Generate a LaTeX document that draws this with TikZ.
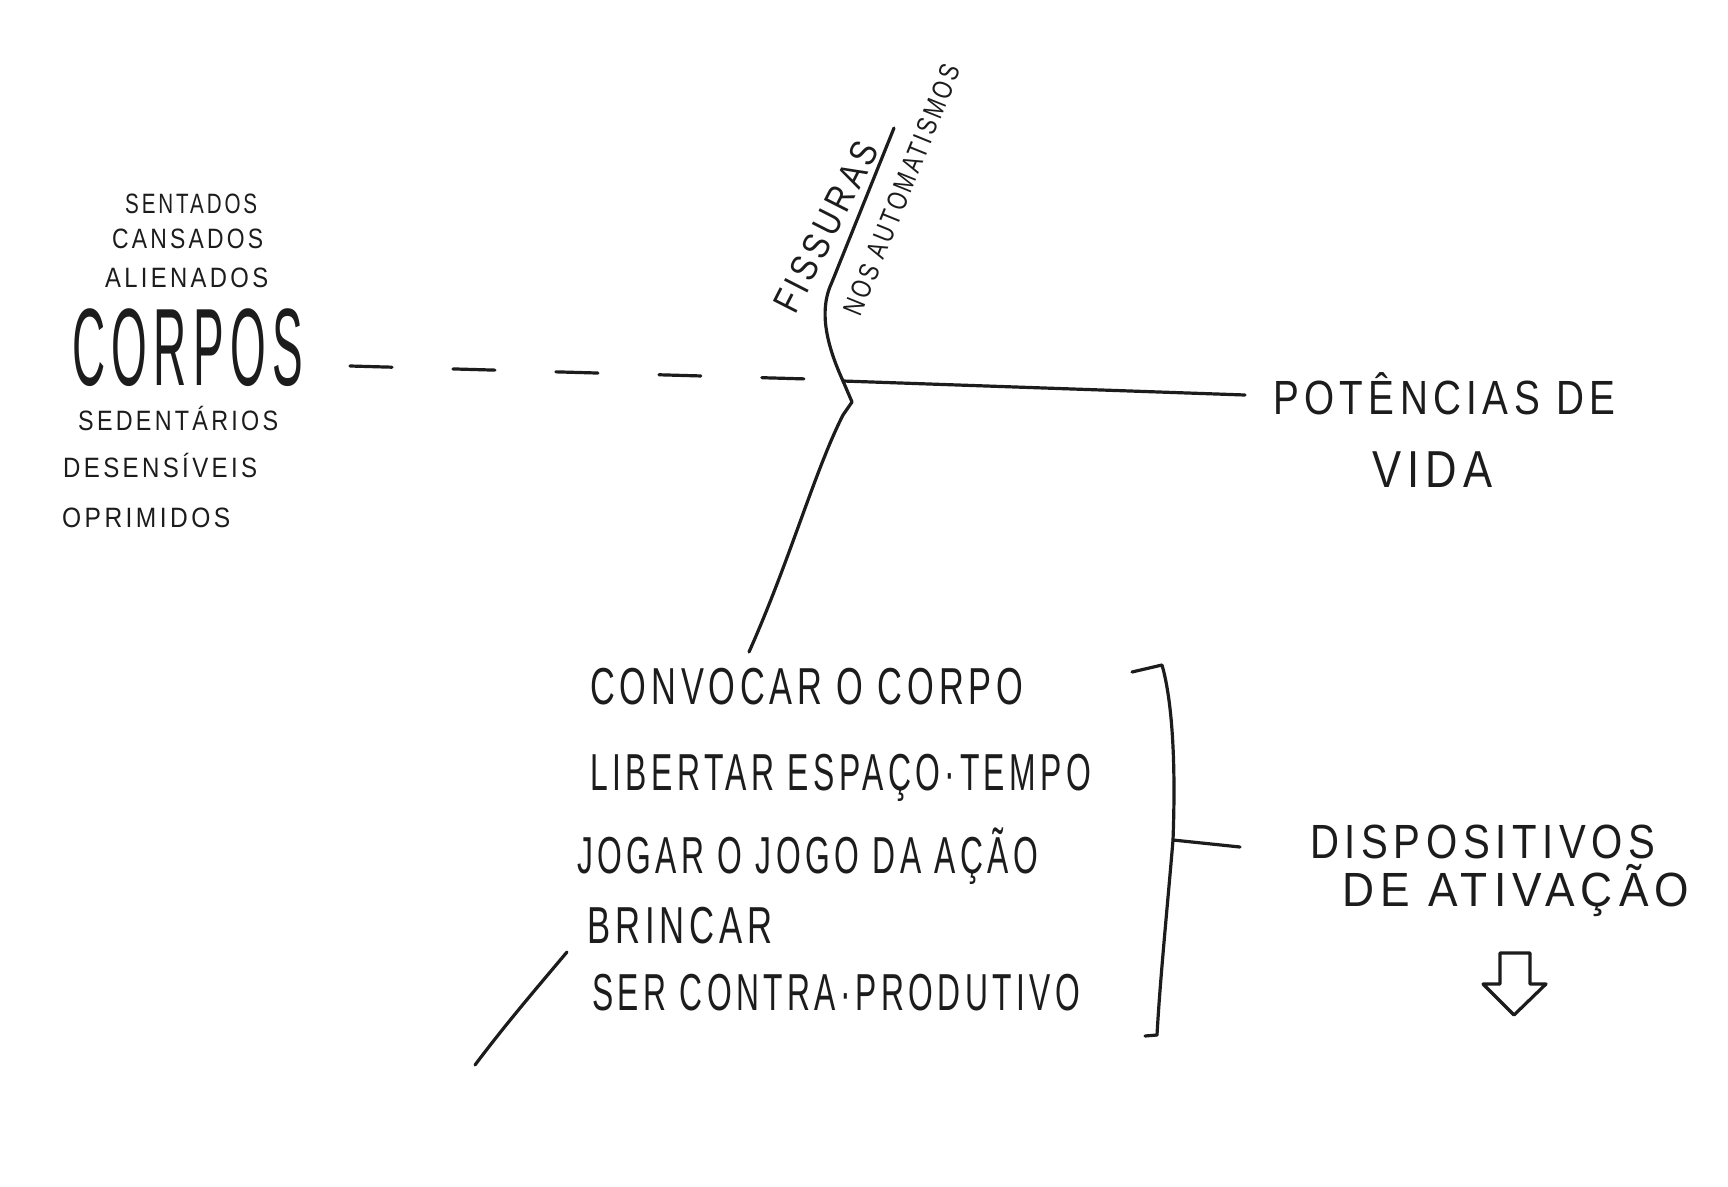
\documentclass[tikz,border=0pt]{standalone}
\usepackage{fontspec}
\setmainfont[LetterSpace=14]{Liberation Sans}
\definecolor{ink}{HTML}{1C1C1C}
\newcommand{\hwt}[3]{\resizebox{#1pt}{\height}{\fontsize{#2}{#2}\selectfont #3}}
\begin{document}
\begin{tikzpicture}[x=1pt,y=-1pt,
  pen/.style={line width=3.2pt,line cap=round,line join=round,draw=ink},
  lbl/.style={inner sep=0pt,text=ink}]
\fill[white] (0,0) rectangle (1728,1186);
\useasboundingbox (0,0) rectangle (1728,1186);

% left words
\node[lbl,anchor=base west] (sentados) at (125,213) {\hwt{132}{28}{SENTADOS}};
\node[lbl,anchor=base west] (cansados) at (112,248) {\hwt{151}{28}{CANSADOS}};
\node[lbl,anchor=base west] (alienados) at (105,287) {\hwt{163}{28}{ALIENADOS}};
\node[lbl,anchor=base west] (corpos) at (72,385) {\hwt{231}{110}{CORPOS}};
\node[lbl,anchor=base west] (sedentarios) at (78,430) {\hwt{200}{28}{SEDENTÁRIOS}};
\node[lbl,anchor=base west] (desensiveis) at (63,477) {\hwt{194}{28}{DESENSÍVEIS}};
\node[lbl,anchor=base west] (oprimidos) at (62,527) {\hwt{168}{28}{OPRIMIDOS}};

% fissure labels
\node[lbl,rotate=63] (fissuras) at (826,227) {\hwt{186}{38}{FISSURAS}};
\node[lbl,rotate=68] (nos) at (902,190) {\hwt{268}{28}{NOS AUTOMATISMOS}};

% right label
\node[lbl,anchor=base west] (potencias) at (1273,414) {\hwt{342}{48}{POTÊNCIAS DE}};
\node[lbl,anchor=base west] (vida) at (1372,487) {\hwt{120}{52}{VIDA}};

% list
\node[lbl,anchor=base west] (l1) at (590,704) {\hwt{433}{52}{CONVOCAR O CORPO}};
\node[lbl,anchor=base west] (l2) at (590,790) {\hwt{501}{52}{LIBERTAR ESPAÇO·TEMPO}};
\node[lbl,anchor=base west] (l3) at (577,873) {\hwt{461}{52}{JOGAR O JOGO DA AÇÃO}};
\node[lbl,anchor=base west] (l4) at (587,943) {\hwt{185}{52}{BRINCAR}};
\node[lbl,anchor=base west] (l5) at (592,1010) {\hwt{488}{52}{SER CONTRA·PRODUTIVO}};

% dispositivos
\node[lbl,anchor=base west] (disp) at (1310,858) {\hwt{345}{48}{DISPOSITIVOS}};
\node[lbl,anchor=base west] (ativ) at (1342,906) {\hwt{347}{48}{DE ATIVAÇÃO}};

% coordinates
\coordinate (dashA) at (350,366);
\coordinate (dashB) at (808,379);
\coordinate (jA) at (843,381);
\coordinate (potL) at (1245,395);
\coordinate (ftop) at (894,128);
\coordinate (fend) at (749,652);
\coordinate (bl1) at (567,952);
\coordinate (bl2) at (475,1065);
\coordinate (brT) at (1162,665);
\coordinate (brM) at (1173,840);
\coordinate (brB) at (1157,1035);
\coordinate (brR) at (1240,847);

% dashed line from CORPOS
\draw[pen,dash pattern=on 42pt off 61pt] (dashA) -- (dashB);
% main horizontal
\draw[pen] (jA) -- (potL);
% fissure line
\draw[pen] (ftop) -- (832,282) .. controls (821,305) and (822,335) .. (jA)
  -- (852,402) -- (843,415) .. controls (815,470) and (790,560) .. (fend);
% bottom-left stroke
\draw[pen] (bl1) .. controls (535,990) and (505,1025) .. (bl2);
% bracket
\draw[pen] (1132,672) -- (brT) .. controls (1172,700) and (1176,760) .. (brM)
  .. controls (1168,900) and (1160,980) .. (brB);
\draw[pen] (1145,1036) -- (brB);
\draw[pen] (brM) -- (brR);
% hollow arrow
\draw[pen] (1500,953) -- (1530,953) -- (1530,984) -- (1546,984) -- (1514,1015)
  -- (1483,984) -- (1500,984) -- cycle;
\end{tikzpicture}
\end{document}
